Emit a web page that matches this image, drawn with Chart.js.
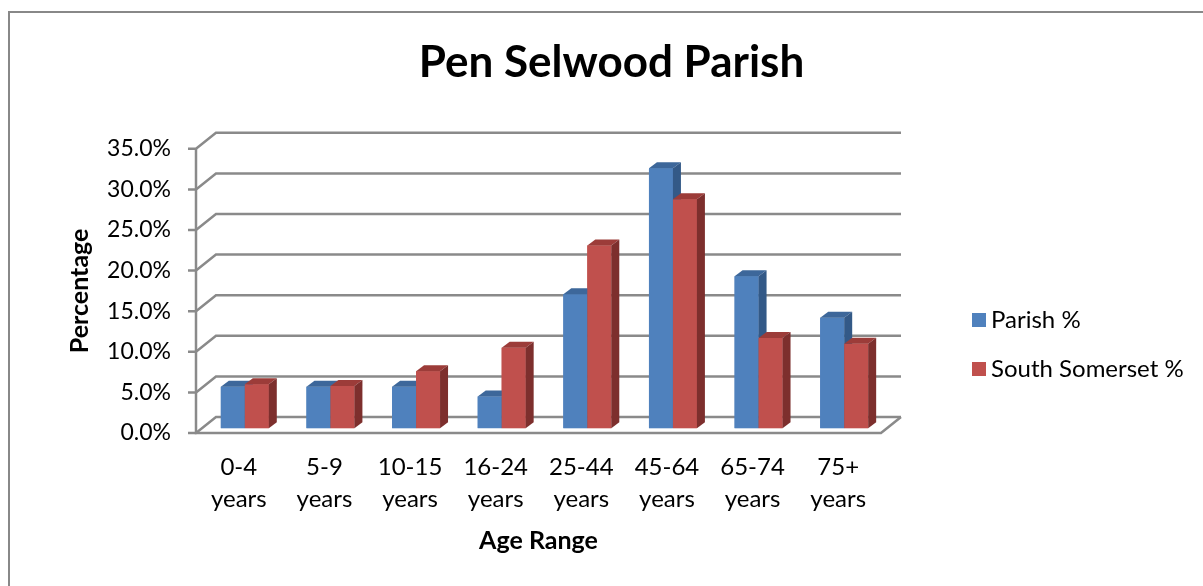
<!DOCTYPE html>
<html>
<head>
<meta charset="utf-8">
<title>Pen Selwood Parish</title>
<script src="https://cdn.jsdelivr.net/npm/chart.js@4.4.1/dist/chart.umd.min.js"></script>
<style>
    html, body { margin: 0; padding: 0; background: #fff; overflow: hidden; }
    #chart { display: block; }
</style>
</head>
<body>
<canvas id="chart" width="1203" height="586"></canvas>
<script>
// --- Data ---
const categories = [
    ['0-4', 'years'], ['5-9', 'years'], ['10-15', 'years'], ['16-24', 'years'],
    ['25-44', 'years'], ['45-64', 'years'], ['65-74', 'years'], ['75+', 'years']
];
const parishPct = [5.1, 5.1, 5.1, 3.9, 16.5, 32.0, 18.7, 13.6];
const southSomersetPct = [5.4, 5.2, 7.0, 9.9, 22.5, 28.2, 11.1, 10.4];
const yTicks = [0, 5, 10, 15, 20, 25, 30, 35];

// --- Look ---
const FONT = 'Lato, Carlito, "Open Sans", sans-serif';
const GRID = '#8a8a8a';
const DEPTH = { x: 20, y: -16 };       // floor / wall depth
const BAR_DEPTH = { x: 8, y: -6 };     // depth of each column
const BAR_POS = 0.3;                   // columns sit this far back on the floor
const faces = {
    '#4F81BD': { top: '#3d679a', side: '#335987' },
    '#C0504D': { top: '#9c3c39', side: '#7d2f2d' }
};

Chart.defaults.font.family = FONT;
Chart.defaults.color = '#000';

// walls, floor and 3d columns
const excel3d = {
    id: 'excel3d',
    beforeDraw(chart) {
        const ctx = chart.ctx;
        ctx.save();
        ctx.strokeStyle = '#888';
        ctx.lineWidth = 2;
        ctx.strokeRect(9, 12, 1400, 800);
        ctx.restore();
    },
    beforeDatasetsDraw(chart) {
        const { ctx, chartArea: { left, right, top, bottom }, scales: { y } } = chart;
        ctx.save();
        ctx.strokeStyle = GRID;
        ctx.lineWidth = 2.5;
        y.ticks.forEach(t => {
            const py = y.getPixelForValue(t.value);
            ctx.beginPath();
            ctx.moveTo(left - 8, py);
            ctx.lineTo(left, py);
            ctx.lineTo(left + DEPTH.x, py + DEPTH.y);
            ctx.lineTo(right + DEPTH.x, py + DEPTH.y);
            ctx.stroke();
        });
        ctx.beginPath();
        ctx.moveTo(left, top);
        ctx.lineTo(left, bottom);
        ctx.lineTo(right, bottom);
        ctx.lineTo(right + DEPTH.x, bottom + DEPTH.y);
        ctx.stroke();
        ctx.restore();

        // columns are drawn a bit back on the floor
        ctx.save();
        ctx.translate(DEPTH.x * BAR_POS, DEPTH.y * BAR_POS);
    },
    afterDatasetsDraw(chart) {
        const ctx = chart.ctx;
        const metas = chart.data.datasets.map((d, i) => chart.getDatasetMeta(i));
        categories.forEach((c, i) => {
            metas.forEach(meta => {
                const bar = meta.data[i];
                const { x, y, base, width } = bar.getProps(['x', 'y', 'base', 'width'], true);
                const l = x - width / 2, r = x + width / 2;
                const f = faces[bar.options.backgroundColor];
                bar.draw(ctx);
                ctx.fillStyle = f.top;
                ctx.beginPath();
                ctx.moveTo(l, y);
                ctx.lineTo(r, y);
                ctx.lineTo(r + BAR_DEPTH.x, y + BAR_DEPTH.y);
                ctx.lineTo(l + BAR_DEPTH.x, y + BAR_DEPTH.y);
                ctx.closePath();
                ctx.fill();
                ctx.fillStyle = f.side;
                ctx.beginPath();
                ctx.moveTo(r, y);
                ctx.lineTo(r + BAR_DEPTH.x, y + BAR_DEPTH.y);
                ctx.lineTo(r + BAR_DEPTH.x, base + BAR_DEPTH.y);
                ctx.lineTo(r, base);
                ctx.closePath();
                ctx.fill();
            });
        });
        ctx.restore();
    },
    afterDraw(chart) {
        const ctx = chart.ctx;
        ctx.save();
        ctx.font = '24px ' + FONT;
        ctx.textBaseline = 'middle';
        chart.data.datasets.forEach((ds, i) => {
            const cy = 320 + i * 49;
            ctx.fillStyle = ds.backgroundColor;
            ctx.fillRect(972, cy - 7, 14, 14);
            ctx.fillStyle = '#000';
            ctx.fillText(ds.label, 991, cy);
        });
        ctx.restore();
    }
};

new Chart(document.getElementById('chart'), {
    type: 'bar',
    data: {
        labels: categories,
        datasets: [
            { label: 'Parish %', data: parishPct, backgroundColor: '#4F81BD' },
            { label: 'South Somerset %', data: southSomersetPct, backgroundColor: '#C0504D' }
        ]
    },
    options: {
        responsive: false,
        animation: false,
        layout: { padding: { left: 20, right: 0, top: 0, bottom: 0 } },
        datasets: { bar: { categoryPercentage: 0.56, barPercentage: 1, borderWidth: 0 } },
        plugins: {
            legend: { display: false },
            tooltip: { enabled: false },
            title: {
                display: true,
                text: 'Pen Selwood Parish',
                font: { size: 44, weight: 'bold' },
                padding: { top: 36, bottom: 60 }
            }
        },
        scales: {
            x: {
                grid: { display: false, drawTicks: false },
                border: { display: false },
                ticks: { font: { size: 24, lineHeight: 1.35 }, padding: 18, maxRotation: 0, autoSkip: false },
                title: { display: true, text: 'Age Range', font: { size: 25, weight: 'bold' }, padding: { top: 0, bottom: 30 } },
                afterFit: s => { s.height = 153; }
            },
            y: {
                min: 0,
                max: 35,
                afterBuildTicks: s => { s.ticks = yTicks.map(v => ({ value: v })); },
                ticks: { callback: v => v.toFixed(1) + '%', padding: 25, font: { size: 23 } },
                grid: { display: false, drawTicks: false },
                border: { display: false },
                title: { display: true, text: 'Percentage', font: { size: 25, weight: 'bold' }, padding: { top: 45, bottom: 0 } },
                afterFit: s => { s.width = 176; }
            },
            legendSpace: {
                type: 'linear',
                position: 'right',
                grid: { display: false, drawTicks: false },
                border: { display: false },
                ticks: { display: false },
                afterFit: s => { s.width = 322; }
            }
        }
    },
    plugins: [excel3d]
});
</script>
</body>
</html>
